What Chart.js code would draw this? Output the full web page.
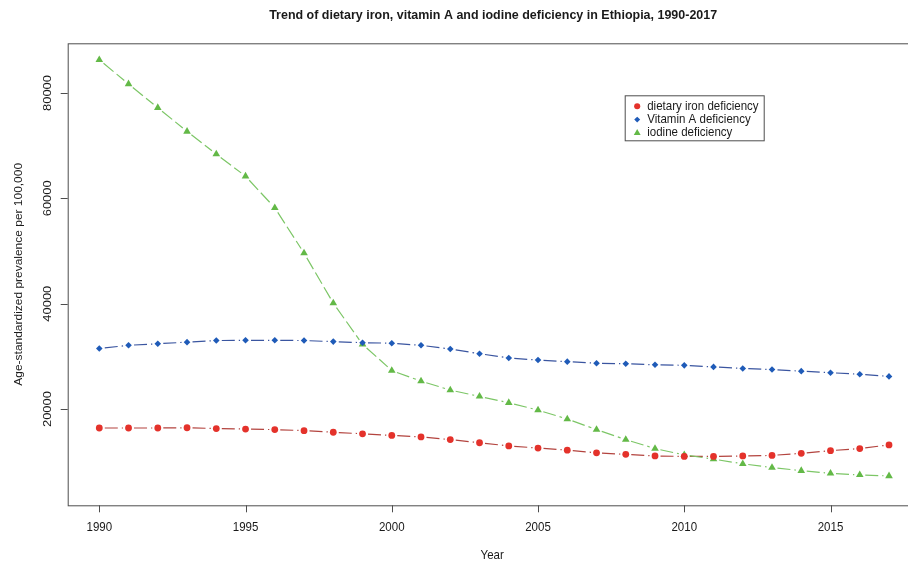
<!DOCTYPE html>
<html>
<head>
<meta charset="utf-8">
<title>Dietary deficiency trends, Ethiopia 1990-2017</title>
<script src="https://cdn.jsdelivr.net/npm/chart.js@4/dist/chart.umd.min.js"></script>
<style>
  html, body { margin: 0; padding: 0; background: #fff; overflow: hidden; }
  #wrap { width: 925px; height: 562px; }
</style>
</head>
<body>
<div id="wrap"><canvas id="c" width="925" height="562"></canvas></div>
<script>
// ---- data ----
const years = [1990, 1991, 1992, 1993, 1994, 1995, 1996, 1997, 1998, 1999,
               2000, 2001, 2002, 2003, 2004, 2005, 2006, 2007, 2008, 2009,
               2010, 2011, 2012, 2013, 2014, 2015, 2016, 2017];

const ironDeficiency = [16400, 16400, 16400, 16450, 16300, 16200, 16100, 15900, 15600, 15300,
                        15000, 14700, 14200, 13600, 13000, 12600, 12200, 11700, 11400, 11100,
                        11000, 11000, 11100, 11200, 11600, 12100, 12500, 13200];

const vitaminADeficiency = [31500, 32100, 32400, 32700, 33000, 33050, 33050, 33000, 32800, 32600,
                            32500, 32100, 31400, 30500, 29700, 29300, 29000, 28700, 28600, 28400,
                            28300, 28000, 27700, 27500, 27200, 26900, 26600, 26200];

const iodineDeficiency = [86300, 81700, 77200, 72700, 68400, 64200, 58200, 49600, 40100, 32300,
                          27300, 25300, 23600, 22400, 21200, 19800, 18100, 16100, 14200, 12500,
                          11300, 10500, 9600, 8900, 8300, 7800, 7500, 7300];

const seriesLabels = ['dietary iron deficiency', 'Vitamin A deficiency', 'iodine deficiency'];

const xTicks = [1990, 1995, 2000, 2005, 2010, 2015];
const yTicks = [20000, 40000, 60000, 80000];

const chartTitle = 'Trend of dietary iron, vitamin A and iodine deficiency in Ethiopia, 1990-2017';
const xTitle = 'Year';
const yTitle = 'Age-standardized prevalence per 100,000';

// ---- drawing helpers ----
const FONT = '"Liberation Sans", Arial, Helvetica, sans-serif';
const TEXT_SX = 0.96;   // glyph width factor
const TEXT_SY = 1.05;   // glyph height factor
const SEG_GAP = 5.5;    // space left open around each marker

function drawText(ctx, s, x, y, o) {
  ctx.save();
  ctx.translate(x, y);
  if (o.rotate) {
    ctx.rotate(o.rotate);
    ctx.scale(TEXT_SY, TEXT_SX);
  } else {
    ctx.scale(TEXT_SX, TEXT_SY);
  }
  ctx.font = (o.bold ? 'bold ' : '') + o.size + 'px ' + FONT;
  ctx.fillStyle = o.color || '#1a1a1a';
  ctx.textAlign = o.align || 'center';
  ctx.textBaseline = 'middle';
  ctx.fillText(s, 0, 0);
  ctx.restore();
}

function toPoints(values) {
  return years.map((yr, i) => ({ x: yr, y: values[i] }));
}

// dashed connectors between consecutive markers, broken around each marker
const gappedLines = {
  id: 'gappedLines',
  beforeDatasetsDraw(chart) {
    const ctx = chart.ctx;
    chart.data.datasets.forEach((ds, i) => {
      const pts = chart.getDatasetMeta(i).data;
      ctx.save();
      ctx.strokeStyle = ds.connectorColor;
      ctx.lineWidth = 1.2;
      for (let k = 1; k < pts.length; k++) {
        const a = pts[k - 1], b = pts[k];
        const dx = b.x - a.x, dy = b.y - a.y;
        const len = Math.hypot(dx, dy);
        if (len <= 2 * SEG_GAP) continue;
        const ux = dx / len, uy = dy / len;
        ctx.setLineDash(ds.connectorDash);
        ctx.lineDashOffset = 0;
        ctx.beginPath();
        ctx.moveTo(a.x + ux * SEG_GAP, a.y + uy * SEG_GAP);
        ctx.lineTo(b.x - ux * SEG_GAP, b.y - uy * SEG_GAP);
        ctx.stroke();
      }
      ctx.restore();
    });
  }
};

// frame, axes, titles and legend
const frameAndText = {
  id: 'frameAndText',
  afterDatasetsDraw(chart) {
    const ctx = chart.ctx;
    const area = chart.chartArea;
    const xs = chart.scales.x, ys = chart.scales.y;

    ctx.save();
    ctx.strokeStyle = '#4d4d4d';
    ctx.lineWidth = 1;
    ctx.setLineDash([]);
    ctx.strokeRect(area.left + 0.5, area.top + 0.5, area.right - area.left, area.bottom - area.top);

    // x axis ticks
    ctx.beginPath();
    xTicks.forEach(v => {
      const px = Math.round(xs.getPixelForValue(v)) + 0.5;
      ctx.moveTo(px, area.bottom);
      ctx.lineTo(px, area.bottom + 7);
    });
    // y axis ticks
    yTicks.forEach(v => {
      const py = Math.round(ys.getPixelForValue(v)) + 0.5;
      ctx.moveTo(area.left, py);
      ctx.lineTo(area.left - 7, py);
    });
    ctx.stroke();
    ctx.restore();

    xTicks.forEach(v => {
      drawText(ctx, String(v), xs.getPixelForValue(v), area.bottom + 22.5, { size: 12 });
    });
    yTicks.forEach(v => {
      drawText(ctx, String(v), area.left - 20, ys.getPixelForValue(v), { size: 12.3, rotate: -Math.PI / 2 });
    });

    const midX = (area.left + area.right) / 2;
    const midY = (area.top + area.bottom) / 2;
    drawText(ctx, xTitle, midX - 2, 556, { size: 12 });
    drawText(ctx, yTitle, 19, midY, { size: 11.4, rotate: -Math.PI / 2 });
    drawText(ctx, chartTitle, midX - 1, 15.5, { size: 13, bold: true });

    // legend
    const lx = area.left + 557, ly = area.top + 52, lw = 139, lh = 45;
    ctx.save();
    ctx.fillStyle = '#fff';
    ctx.fillRect(lx, ly, lw, lh);
    ctx.strokeStyle = '#4d4d4d';
    ctx.lineWidth = 1;
    ctx.strokeRect(lx + 0.5, ly + 0.5, lw, lh);
    chart.data.datasets.forEach((ds, i) => {
      const ry = ly + 11 + i * 13.3;
      ctx.fillStyle = ds.pointBackgroundColor;
      ctx.strokeStyle = ds.pointBackgroundColor;
      Chart.helpers.drawPoint(ctx, {
        pointStyle: ds.pointStyle,
        radius: ds.pointRadius * 0.9,
        rotation: 0,
        borderWidth: 0
      }, lx + 12.5, ry);
      drawText(ctx, ds.label, lx + 22.5, ry, { size: 12, align: 'left' });
    });
    ctx.restore();
  }
};

new Chart(document.getElementById('c'), {
  type: 'line',
  data: {
    datasets: [
      {
        label: seriesLabels[0],
        data: toPoints(ironDeficiency),
        showLine: false,
        pointStyle: 'circle',
        pointRadius: 3.4,
        pointBorderWidth: 0,
        pointBackgroundColor: '#e4322b',
        pointBorderColor: '#e4322b',
        connectorColor: '#b3433e',
        connectorDash: [13, 4]
      },
      {
        label: seriesLabels[1],
        data: toPoints(vitaminADeficiency),
        showLine: false,
        pointStyle: 'rectRot',
        pointRadius: 3.3,
        pointBorderWidth: 0,
        pointBackgroundColor: '#1f5bb8',
        pointBorderColor: '#1f5bb8',
        connectorColor: '#3a55a0',
        connectorDash: [13, 4]
      },
      {
        label: seriesLabels[2],
        data: toPoints(iodineDeficiency),
        showLine: false,
        pointStyle: 'triangle',
        pointRadius: 4.4,
        pointBorderWidth: 0,
        pointBackgroundColor: '#63b947',
        pointBorderColor: '#63b947',
        connectorColor: '#7cc666',
        connectorDash: [13, 4]
      }
    ]
  },
  options: {
    responsive: false,
    animation: false,
    layout: { padding: { left: 67.7, top: 43.3, right: 2, bottom: 56.7 } },
    plugins: {
      legend: { display: false },
      title: { display: false },
      tooltip: { enabled: false }
    },
    scales: {
      x: { type: 'linear', min: 1988.92, max: 2018.08, display: false },
      y: { type: 'linear', min: 1730, max: 89430, display: false }
    }
  },
  plugins: [gappedLines, frameAndText]
});
</script>
</body>
</html>
